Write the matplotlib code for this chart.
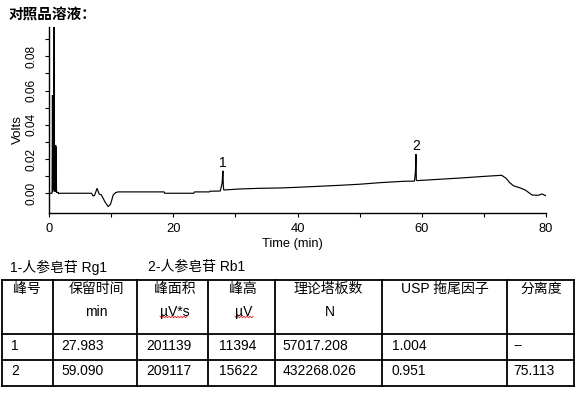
import numpy as np
import matplotlib
matplotlib.use("Agg")
import matplotlib.pyplot as plt

plt.rcParams['font.family'] = ['Liberation Sans', 'Noto Sans CJK SC', 'DejaVu Sans']

# ---------------- data ----------------
time_min = [0.0, 0.45, 0.51, 0.56, 0.62, 0.66, 0.71, 0.78, 0.84, 0.88, 0.92, 0.96, 1.0,
            1.04, 1.08, 1.12, 1.16, 1.25, 1.35, 1.43, 1.5, 1.7, 6.8, 7.07, 7.3, 7.7, 8.03,
            8.4, 8.95, 9.49, 9.87, 10.3, 10.7, 11.1, 18.5, 18.6, 23.3, 23.4, 25.8, 25.9,
            27.55, 27.7, 27.85, 27.98, 28.05, 28.12, 30.6, 33.9, 37.2, 40.1, 43.6, 47.1,
            50.1, 53.3, 57.1, 58.85, 59.0, 59.09, 59.15, 59.3, 63.0, 66.2, 70.2, 72.9,
            73.6, 74.2, 74.8, 75.9, 76.7, 77.8, 78.8, 79.4, 80.0]
volts = [0.0, 0.0, 0.0573, 0.001, 0.027, 0.002, 0.028, 0.15, 0.002, 0.028, 0.001, 0.028,
         0.001, 0.028, 0.001, 0.027, 0.0005, 0.0008, 0.0003, 0.0006, -0.0003, 0.0, 0.0,
         -0.0016, -0.0012, 0.0029, -0.0004, -0.001, -0.0049, -0.0078, -0.0064, -0.001,
         0.0004, 0.0008, 0.0008, 0.0, 0.0, 0.0008, 0.0008, 0.0012, 0.0013, 0.0035, 0.006,
         0.0131, 0.004, 0.0019, 0.0025, 0.0029, 0.0031, 0.0035, 0.0041, 0.0047, 0.0053,
         0.0062, 0.0070, 0.0071, 0.012, 0.0228, 0.0076, 0.0074, 0.0082, 0.0089, 0.0099,
         0.0105, 0.0088, 0.0062, 0.0044, 0.0031, 0.0019, -0.0010, -0.0012, -0.0004, -0.0014]

peak_ids = ['1', '2']
peak_times = [27.983, 59.090]
peak_tops = [0.0131, 0.0228]

x_major = [0, 20, 40, 60, 80]
x_minor = [10, 30, 50, 70]
y_major = [0.00, 0.02, 0.04, 0.06, 0.08]
y_minor = [0.01, 0.03, 0.05, 0.07, 0.09]

legend_items = ['1-人参皂苷 Rg1', '2-人参皂苷 Rb1']
header_line1 = ['峰号', '保留时间', '峰面积', '峰高', '理论塔板数', 'USP 拖尾因子', '分离度']
header_line2 = ['', 'min', 'µV*s', 'µV', 'N', '', '']
row1 = ['1', '27.983', '201139', '11394', '57017.208', '1.004', '--']
row2 = ['2', '59.090', '209117', '15622', '432268.026', '0.951', '75.113']

# ---------------- figure ----------------
W, H = 583, 393
fig = plt.figure(figsize=(W / 100, H / 100), dpi=100)

# overlay axes in pixel coordinates for title / table
ov = fig.add_axes([0, 0, 1, 1])
ov.set_xlim(0, W)
ov.set_ylim(H, 0)
ov.axis('off')
ov.patch.set_visible(False)

L, R, T, B = 49.3, 545.7, 26.7, 213.3
ax = fig.add_axes([L / W, (H - B) / H, (R - L) / W, (B - T) / H])
ax.patch.set_visible(False)
ax.plot(time_min, volts, color='black', lw=0.85, solid_joinstyle='miter')
ax.set_xlim(0, 80)
ax.set_ylim(-0.0117, 0.0973)
for s in ['top', 'right']:
    ax.spines[s].set_visible(False)
for s in ['left', 'bottom']:
    ax.spines[s].set_linewidth(1.0)
ax.set_xticks(x_major)
ax.set_xticks(x_minor, minor=True)
ax.set_yticks(y_major)
ax.set_yticks(y_minor, minor=True)
ax.set_yticklabels([f'{v:.2f}' for v in y_major], rotation=90, va='center')
ax.tick_params(which='both', direction='out', length=2.8, width=0.8, colors='black')
ax.tick_params(axis='x', labelsize=9.3, pad=4.5)
ax.tick_params(axis='y', labelsize=8.6, pad=5.5)

for pid, pt, top in zip(peak_ids, peak_times, peak_tops):
    ax.text(pt, top + 0.0048, pid, ha='center', va='center', fontsize=10)

ov.text(18, 130, 'Volts', rotation=90, ha='center', va='center', fontsize=9.6)
ov.text(292, 244, 'Time (min)', ha='center', va='center', fontsize=9.3)

ov.text(9, 15, '对照品溶液：', ha='left', va='center', fontsize=10.5, fontweight='bold',
        family=['Noto Sans CJK SC', 'DejaVu Sans'])

# legend line
for x, s in zip([10, 148.3], legend_items):
    ov.text(x, 267, s, ha='left', va='center', fontsize=10)

# table grid
col_edges = [2.3, 53.3, 137.3, 208.3, 275.3, 382.3, 506.7, 574.3]
row_edges = [280, 334, 360, 386]
for yv in row_edges:
    ov.plot([col_edges[0], col_edges[-1]], [yv, yv], color='black', lw=1.3, solid_capstyle='projecting')
for xv in col_edges:
    ov.plot([xv, xv], [row_edges[0], row_edges[-1]], color='black', lw=1.3, solid_capstyle='projecting')

h1_x = [13.3, 68.3, 154, 229.3, 293.3, 400.7, 520]
h2_x = [0, 85, 160, 235, 325, 0, 0]
d_x = [11, 61, 146, 219.3, 282.7, 391.7, 513.3]
for i in range(7):
    ov.text(h1_x[i], 289, header_line1[i], ha='left', va='center', fontsize=10)
    if header_line2[i]:
        t = ov.text(h2_x[i], 312, header_line2[i], ha='left', va='center', fontsize=10)
    ov.text(d_x[i], 345.5, row1[i], ha='left', va='center', fontsize=10)
    ov.text(d_x[i], 371, row2[i], ha='left', va='center', fontsize=10)

# red spell-check squiggles under µV*s and µV
for x0, x1 in [(160, 188), (235, 253)]:
    xs = np.arange(x0, x1 + 0.1, 1.5)
    ys = 317 + 0.8 * ((np.arange(len(xs)) % 2) * 2 - 1)
    ov.plot(xs, ys, color='#e02020', lw=0.6)

fig.savefig('out.png', dpi=100)
